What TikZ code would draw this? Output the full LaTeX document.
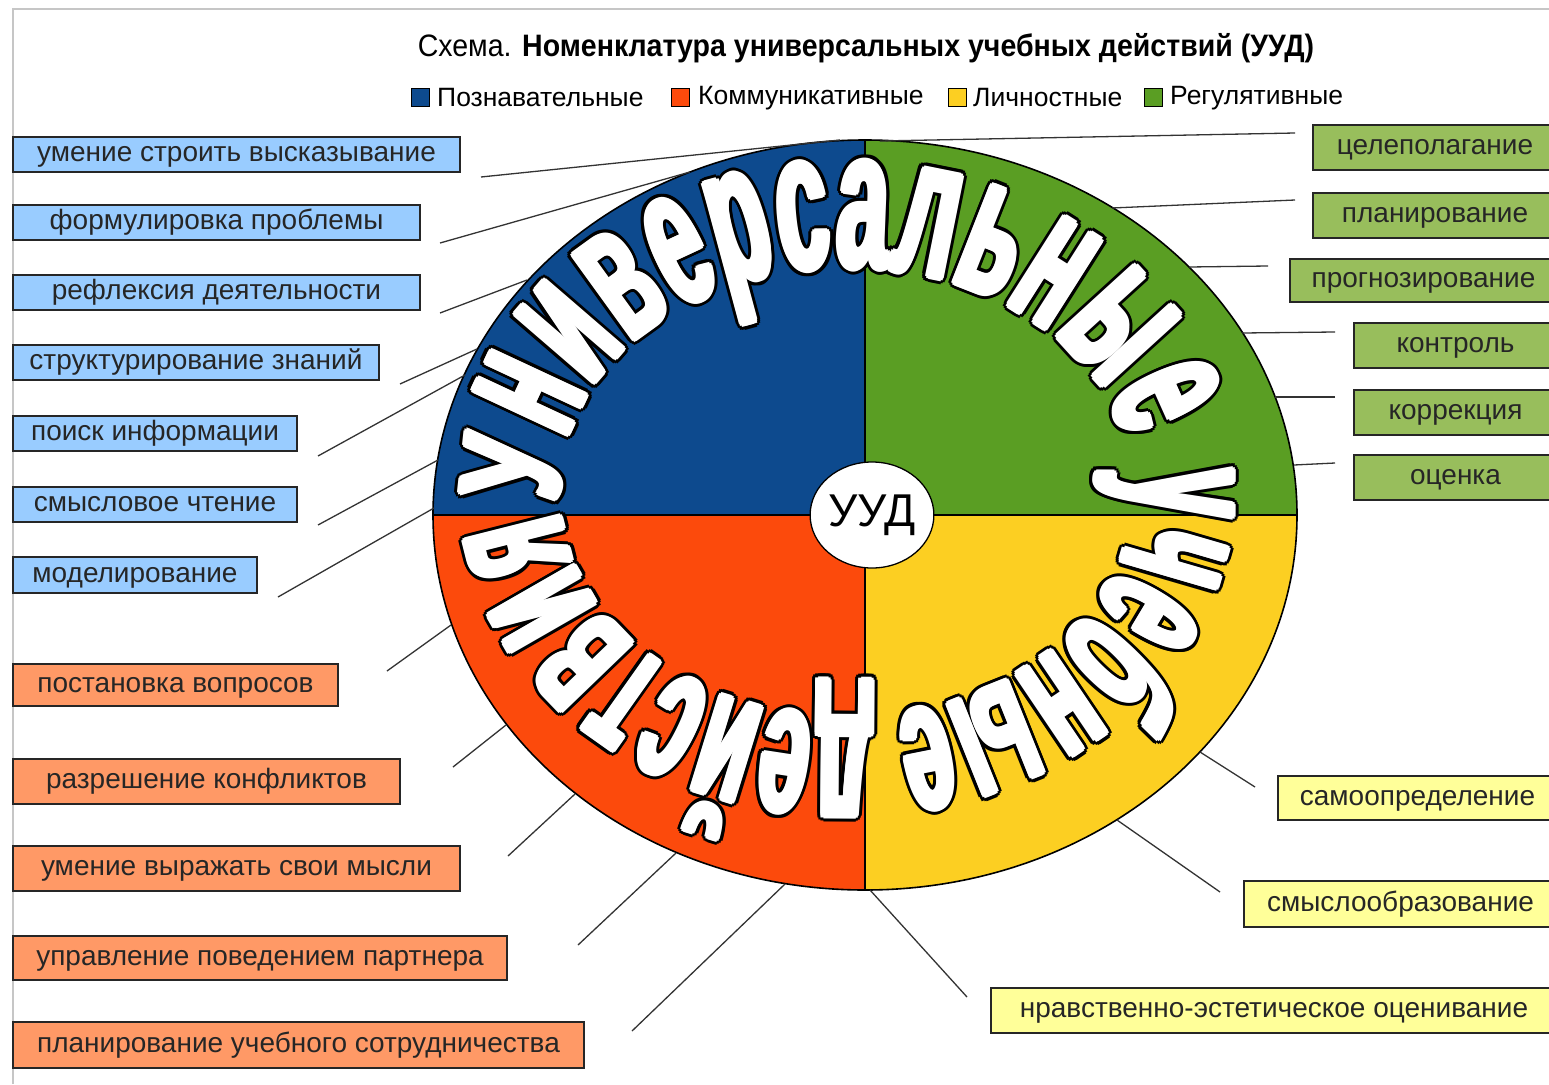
\documentclass[tikz,border=0pt]{standalone}
\usepackage{fontspec}
\setmainfont{Liberation Sans}
\newfontfamily\wafont{Liberation Sans}[FakeStretch=0.47]
\newfontfamily\wafontU{Liberation Sans}[FakeStretch=0.7]
\newfontfamily\titlefont{Liberation Sans}[FakeStretch=0.92]
\usetikzlibrary{decorations.text,shapes.geometric}
\definecolor{qblue}{HTML}{0D4A8E}
\definecolor{qgreen}{HTML}{5A9E23}
\definecolor{qred}{HTML}{FC4A0C}
\definecolor{qyellow}{HTML}{FCCF22}
\definecolor{bblue}{HTML}{99CCFF}
\definecolor{bred}{HTML}{FF9966}
\definecolor{bgreen}{HTML}{98BE5C}
\definecolor{byellow}{HTML}{FFFF99}
\definecolor{lnk}{HTML}{333333}
\newcommand\waU{\wafontU\bfseries\fontsize{142}{142}\selectfont}
\newcommand\waT{\wafont\bfseries\fontsize{198}{198}\selectfont}
\newcommand\waR{\wafont\bfseries\fontsize{187}{187}\selectfont}
\newcommand\wacol{black}
% one word of the curved title: #1 text, #2 start angle, #3 end angle
\newcommand\wordarc[3]{%
  \def\wacol{black}%
  \foreach \a in {0,22.5,...,337.5}{
    \path[shift={(\a:6)}, decorate, decoration={text along path, text align={fit to path}, text={#1}}]
      (847,492) ++(#2:287 and 225) arc[start angle=#2, end angle=#3, x radius=287, y radius=225];
  }%
  \def\wacol{white}%
  \foreach \a in {0,45,...,315}{
    \path[shift={(\a:3)}, decorate, decoration={text along path, text align={fit to path}, text={#1}}]
      (847,492) ++(#2:287 and 225) arc[start angle=#2, end angle=#3, x radius=287, y radius=225];
  }%
  \path[decorate, decoration={text along path, text align={fit to path}, text={#1}}]
      (847,492) ++(#2:287 and 225) arc[start angle=#2, end angle=#3, x radius=287, y radius=225];
}
\begin{document}
\begin{tikzpicture}[x=1pt,y=-1pt,
  box/.style={draw=black!85, line width=1.5pt, font=\fontsize{28}{30}\selectfont, text=black!85, inner sep=0pt, text height=20pt, text depth=5.4pt, anchor=center},
  link/.style={draw=lnk, line width=1.3pt},
  legsq/.style={draw=black, line width=1pt, minimum size=18pt, inner sep=0pt},
  legtx/.style={anchor=west, inner sep=0pt, font=\fontsize{26.5}{27}\selectfont}]
\useasboundingbox (0,0) rectangle (1549,1084);
\fill[white] (0,0) rectangle (1549,1084);
\draw[gray!45, line width=1.5pt] (13,1084) -- (13,9) -- (1549,9);

% title and legend
\node[font=\titlefont\fontsize{31}{31}\selectfont] (title) at (866,48) {Схема. \textbf{Номенклатура универсальных учебных действий (УУД)}};
\node[legsq, fill=qblue] (sq1) at (420.5,97) {};
\node[legtx] (lg1) at (437,98) {Познавательные};
\node[legsq, fill=qred] (sq2) at (680,97) {};
\node[legtx] (lg2) at (698,98) {Коммуникативные};
\node[legsq, fill=qyellow] (sq3) at (957.5,97) {};
\node[legtx] (lg3) at (973,98) {Личностные};
\node[legsq, fill=qgreen] (sq4) at (1153.5,97) {};
\node[legtx] (lg4) at (1170,98) {Регулятивные};

% wheel
\coordinate (C) at (865,515);
\fill[qblue] (C) -- ++(180:432 and 375) arc[start angle=180, end angle=270, x radius=432, y radius=375] -- cycle;
\fill[qgreen] (C) -- ++(270:432 and 375) arc[start angle=270, end angle=360, x radius=432, y radius=375] -- cycle;
\fill[qyellow] (C) -- ++(0:432 and 375) arc[start angle=0, end angle=90, x radius=432, y radius=375] -- cycle;
\fill[qred] (C) -- ++(90:432 and 375) arc[start angle=90, end angle=180, x radius=432, y radius=375] -- cycle;
\draw[black, line width=1.5pt] (865,140) -- (865,890);
\draw[black, line width=1.5pt] (433,515) -- (1297,515);
\draw[black, line width=1.6pt] (C) ellipse[x radius=432, y radius=375];

% curved WordArt title, word by word
\wordarc{|\color{\wacol}\waU|У|\color{\wacol}\waT|ниверсальные}{177}{347}
\wordarc{|\color{\wacol}\waR|учебные}{354}{440}
\wordarc{|\color{\wacol}\waR|действия}{445}{532}

\node[draw=black, fill=white, ellipse, line width=1.3pt, minimum width=120pt, minimum height=106pt, inner sep=0pt, font=\fontsize{46}{46}\selectfont] (uud) at (872,515) {УУД};

% left blue boxes
\node[box, fill=bblue, minimum width=447pt, minimum height=35pt] (b1) at (236.5,154.5) {умение строить высказывание};
\node[box, fill=bblue, minimum width=407pt, minimum height=35pt] (b2) at (216.5,222.5) {формулировка проблемы};
\node[box, fill=bblue, minimum width=407pt, minimum height=35pt] (b3) at (216.5,292.5) {рефлексия деятельности};
\node[box, fill=bblue, minimum width=366pt, minimum height=35pt] (b4) at (196,362.5) {структурирование знаний};
\node[box, fill=bblue, minimum width=284pt, minimum height=35pt] (b5) at (155,433.5) {поиск информации};
\node[box, fill=bblue, minimum width=284pt, minimum height=35pt] (b6) at (155,504.5) {смысловое чтение};
\node[box, fill=bblue, minimum width=244pt, minimum height=36pt] (b7) at (135,575) {моделирование};

% left orange boxes
\node[box, fill=bred, minimum width=325pt, minimum height=42pt] (o1) at (175.5,685) {постановка вопросов};
\node[box, fill=bred, minimum width=387pt, minimum height=45pt] (o2) at (206.5,781.5) {разрешение конфликтов};
\node[box, fill=bred, minimum width=447pt, minimum height=45pt] (o3) at (236.5,868.5) {умение выражать свои мысли};
\node[box, fill=bred, minimum width=494pt, minimum height=44pt] (o4) at (260,958) {управление поведением партнера};
\node[box, fill=bred, minimum width=571pt, minimum height=46pt] (o5) at (298.5,1045) {планирование учебного сотрудничества};

% right green boxes
\node[box, fill=bgreen, minimum width=244pt, minimum height=45pt] (g1) at (1435,147.5) {целеполагание};
\node[box, fill=bgreen, minimum width=244pt, minimum height=45pt] (g2) at (1435,215.5) {планирование};
\node[box, fill=bgreen, minimum width=267pt, minimum height=43pt] (g3) at (1423.5,280.5) {прогнозирование};
\node[box, fill=bgreen, minimum width=203pt, minimum height=45pt] (g4) at (1455.5,345.5) {контроль};
\node[box, fill=bgreen, minimum width=203pt, minimum height=45pt] (g5) at (1455.5,412.5) {коррекция};
\node[box, fill=bgreen, minimum width=203pt, minimum height=45pt] (g6) at (1455.5,477.5) {оценка};

% right yellow boxes
\node[box, fill=byellow, minimum width=279pt, minimum height=44pt] (y1) at (1417.5,798) {самоопределение};
\node[box, fill=byellow, minimum width=313pt, minimum height=46pt] (y2) at (1400.5,904) {смыслообразование};
\node[box, fill=byellow, minimum width=566pt, minimum height=45pt] (y3) at (1274,1010.5) {нравственно-эстетическое оценивание};

% connector end points
\coordinate (sb1) at (481,177);  \coordinate (eb1) at (840,140);
\coordinate (sb2) at (440,243);  \coordinate (eb2) at (690,172);
\coordinate (sb3) at (440,313);  \coordinate (eb3) at (527,280);
\coordinate (sb4) at (400,384);  \coordinate (eb4) at (477,349);
\coordinate (sb5) at (318,456);  \coordinate (eb5) at (465,375);
\coordinate (sb6) at (318,525);  \coordinate (eb6) at (438,460);
\coordinate (sb7) at (278,597);  \coordinate (eb7) at (434,508);
\coordinate (so1) at (387,671);  \coordinate (eo1) at (451,625);
\coordinate (so2) at (453,767);  \coordinate (eo2) at (506,725);
\coordinate (so3) at (508,856);  \coordinate (eo3) at (575,794);
\coordinate (so4) at (578,945);  \coordinate (eo4) at (676,853);
\coordinate (so5) at (632,1031); \coordinate (eo5) at (785,884);
\coordinate (sy1) at (1255,787); \coordinate (ey1) at (1200,752);
\coordinate (sy2) at (1220,892); \coordinate (ey2) at (1117,820);
\coordinate (sy3) at (967,997);  \coordinate (ey3) at (870,890);
\coordinate (sg1) at (1295,133); \coordinate (eg1) at (880,141);
\coordinate (sg2) at (1295,200); \coordinate (eg2) at (1112,208);
\coordinate (sg3) at (1268,266); \coordinate (eg3) at (1189,267);
\coordinate (sg4) at (1335,332); \coordinate (eg4) at (1242,333);
\coordinate (sg5) at (1335,397); \coordinate (eg5) at (1275,397);
\coordinate (sg6) at (1335,463); \coordinate (eg6) at (1294,465);
\foreach \n in {b1,b2,b3,b4,b5,b6,b7,o1,o2,o3,o4,o5,y1,y2,y3,g1,g2,g3,g4,g5,g6}{
  \draw[link] (s\n) -- (e\n);
}
\end{tikzpicture}
\end{document}
